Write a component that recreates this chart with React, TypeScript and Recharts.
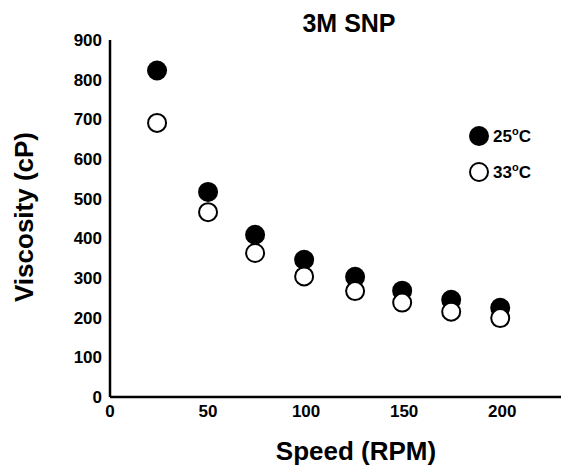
import { ScatterChart, Scatter, XAxis, YAxis, Legend } from 'recharts';

const speeds = [24, 50, 74, 99, 125, 149, 174, 199];
const visc25 = [823, 517, 409, 346, 303, 268, 245, 225];
const visc33 = [691, 466, 363, 304, 267, 238, 215, 199];
const xTicks = [0, 50, 100, 150, 200];
const yTicks = [0, 100, 200, 300, 400, 500, 600, 700, 800, 900];
const seriesNames = ['25', '33'];

const FONT = '"Liberation Sans", Arial, Helvetica, sans-serif';

const data25 = speeds.map((s, i) => ({ speed: s, visc: visc25[i] }));
const data33 = speeds.map((s, i) => ({ speed: s, visc: visc33[i] }));

const FilledDot = (props: any) => <circle cx={props.cx} cy={props.cy} r={10} fill="#000" />;
const OpenDot = (props: any) => (
  <circle cx={props.cx} cy={props.cy} r={9} fill="#fff" stroke="#000" strokeWidth={2} />
);

const tickStyle = { fontFamily: FONT, fontSize: 17, fontWeight: 700, fill: '#000' };

function LegendBox() {
  return (
    <div style={{ fontFamily: FONT, fontSize: 17, fontWeight: 700, color: '#000' }}>
      {seriesNames.map((n, i) => (
        <div key={n} style={{ display: 'flex', alignItems: 'center', height: 36 }}>
          <svg width={22} height={22} style={{ marginRight: 3 }}>
            {i === 0 ? (
              <circle cx={11} cy={11} r={10} fill="#000" />
            ) : (
              <circle cx={11} cy={11} r={9} fill="#fff" stroke="#000" strokeWidth={2} />
            )}
          </svg>
          <span>
            {n}
            <sup style={{ fontSize: 11 }}>o</sup>C
          </span>
        </div>
      ))}
    </div>
  );
}

export default function App() {
  return (
    <div style={{ position: 'relative', width: 561, height: 467, background: '#fff' }}>
      <style>{`body{margin:0}`}</style>
      <ScatterChart width={561} height={467} margin={{ top: 40, right: 0, bottom: 0, left: 0 }}>
        <XAxis
          type="number"
          dataKey="speed"
          domain={[0, 230]}
          ticks={xTicks}
          height={70}
          tickLine={false}
          axisLine={{ stroke: '#000', strokeWidth: 2.5 }}
          tick={tickStyle}
        />
        <YAxis
          type="number"
          dataKey="visc"
          domain={[0, 900]}
          ticks={yTicks}
          width={110}
          tickLine={false}
          axisLine={{ stroke: '#000', strokeWidth: 2.5 }}
          tick={tickStyle}
        />
        <Legend
          layout="vertical"
          align="center"
          verticalAlign="middle"
          content={<LegendBox />}
          wrapperStyle={{ position: 'absolute', left: 468, top: 118, width: 90 }}
        />
        <Scatter name="25" data={data25} shape={<FilledDot />} isAnimationActive={false} />
        <Scatter name="33" data={data33} shape={<OpenDot />} isAnimationActive={false} />
      </ScatterChart>
      <svg
        width={561}
        height={467}
        style={{ position: 'absolute', left: 0, top: 0, pointerEvents: 'none' }}
        fontFamily={FONT}
        fontWeight={700}
      >
        <text x={349} y={32} textAnchor="middle" fontSize={25}>
          3M SNP
        </text>
        <text x={356} y={460} textAnchor="middle" fontSize={26}>
          Speed (RPM)
        </text>
        <text
          x={0}
          y={0}
          transform="translate(33 217) rotate(-90)"
          textAnchor="middle"
          fontSize={26}
        >
          Viscosity (cP)
        </text>
      </svg>
    </div>
  );
}
